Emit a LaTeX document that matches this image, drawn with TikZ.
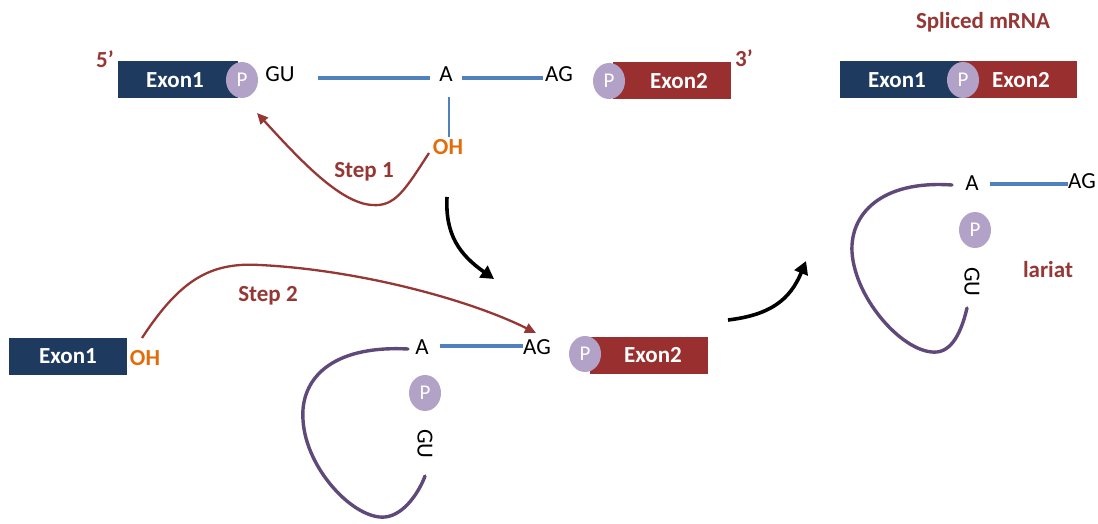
\documentclass[tikz,border=0pt]{standalone}
\usepackage{fontspec}
\setmainfont{Carlito}
\usetikzlibrary{arrows.meta,shapes.geometric}
\definecolor{navy}{HTML}{1F3A5F}
\definecolor{exred}{HTML}{9A2F2F}
\definecolor{lblred}{HTML}{953735}
\definecolor{ohorange}{HTML}{E36C0A}
\definecolor{lav}{HTML}{B3A2C7}
\definecolor{strand}{HTML}{4F81BD}
\definecolor{lasso}{HTML}{5F497A}
\tikzset{
  base/.style={font=\fontsize{23}{27}\selectfont, inner sep=2pt},
  bold/.style={font=\fontsize{23}{27}\selectfont\bfseries, inner sep=2pt},
  exonone/.style={bold, fill=navy, text=white, minimum width=120pt, minimum height=37pt, inner sep=0pt},
  exontwo/.style={bold, fill=exred, text=white, minimum width=118pt, minimum height=37pt, inner sep=0pt},
  pcirc/.style={ellipse, fill=lav, text=white, minimum width=32pt, minimum height=36pt, inner sep=0pt, font=\fontsize{21}{24}\selectfont},
  nt/.style={base, text=black},
  lbl/.style={bold, text=lblred},
  oh/.style={bold, text=ohorange},
  strandline/.style={draw=strand, line width=3.2pt},
  stepcurve/.style={draw=lblred, line width=2.3pt, -{Triangle[length=11pt,width=10pt]}},
  flowarrow/.style={draw=black, line width=3.6pt, -{Triangle[length=13pt,width=14pt]}},
  lassoline/.style={draw=lasso, line width=3.4pt, line cap=round},
}
\begin{document}
\begin{tikzpicture}[x=1pt,y=-1pt]
\useasboundingbox (0,0) rectangle (1098,524);
% ---------- top row: pre-mRNA ----------
\node[lbl] (five) at (105,59) {5’};
\node[exonone] (ea) at (178,80) {\hspace*{-6pt}Exon1};
\node[pcirc] (pa) at (242,80) {P};
\node[nt] (gua) at (280,74) {GU};
\coordinate (sa) at (318,78);
\node[nt, inner sep=0pt] (aa) at (446,74) {A};
\coordinate (sb) at (430,78);
\coordinate (sc) at (462,78);
\node[nt] (aga) at (559,74) {AG};
\draw[strandline] (sa) -- (sb);
\draw[strandline] (sc) -- (aga.west |- sc);
\node[exontwo] (eb) at (672,81) {\hspace*{14pt}Exon2};
\node[pcirc] (pb) at (609,81) {P};
\node[lbl] (three) at (744,58) {3’};
\node[oh] (oha) at (448,147) {OH};
\coordinate (va) at (449,97);
\draw[strand, line width=1.4pt] (va) -- (oha.north -| va);
% step 1
\coordinate (st1) at (429,153);
\draw[stepcurve] (st1) .. controls (405,190) and (395,207) .. (372,205)
   .. controls (340,203) and (300,160) .. (257,113);
\node[lbl] (s1) at (364,172) {Step 1};
% black arrow down
\coordinate (ba1) at (447,197);
\coordinate (ba2) at (494,279);
\draw[flowarrow] (ba1) .. controls (445,235) and (460,255) .. (ba2);
% ---------- top right: spliced mRNA ----------
\node[lbl] (smr) at (983,22) {Spliced mRNA};
\node[exonone] (ec) at (900,80) {\hspace*{-6pt}Exon1};
\node[exontwo] (ed) at (1018,80) {\hspace*{6pt}Exon2};
\node[pcirc] (pc) at (963,80) {P};
% ---------- right: lariat ----------
\node[nt, inner sep=0pt] (ac) at (972,183) {A};
\node[nt, inner sep=0pt] (agc) at (1082,181) {AG};
\coordinate (sd) at (990,184);
\draw[strandline] (sd) -- (agc.west |- sd);
\node[pcirc] (pd) at (975,230) {P};
\node[nt, rotate=-90] (guc) at (972,282) {GU};
\node[lbl] (lar) at (1048,270) {lariat};
\coordinate (la1) at (952,185);
\coordinate (la2) at (967,308);
\draw[lassoline] (la1) .. controls (880,180) and (850,215) .. (852,252)
   .. controls (855,300) and (905,355) .. (937,352)
   .. controls (955,350) and (963,325) .. (la2);
% black arrow up-right
\coordinate (bb1) at (728,320);
\coordinate (bb2) at (806,261);
\draw[flowarrow] (bb1) .. controls (770,315) and (790,300) .. (bb2);
% ---------- bottom: after step 1 ----------
\node[exonone, minimum width=118pt] (ee) at (68,356) {Exon1};
\node[oh] (ohb) at (145,358) {OH};
\node[nt, inner sep=0pt] (ab) at (422,347) {A};
\node[nt, inner sep=0pt] (agb) at (537,347) {AG};
\coordinate (se) at (440,346);
\draw[strandline] (se) -- (agb.west |- se);
\node[exontwo] (ef) at (649,355) {\hspace*{8pt}Exon2};
\node[pcirc] (pf) at (585,354) {P};
\node[pcirc] (pe) at (425,393) {P};
\node[nt, rotate=-90] (gub) at (425,444) {GU};
\coordinate (lb1) at (408,349);
\coordinate (lb2) at (425,476);
\draw[lassoline] (lb1) .. controls (330,345) and (300,380) .. (303,420)
   .. controls (306,470) and (355,520) .. (385,517)
   .. controls (405,515) and (420,490) .. (lb2);
% step 2
\coordinate (st2) at (142,338);
\draw[stepcurve] (st2) .. controls (180,280) and (210,262) .. (260,265)
   .. controls (360,270) and (470,300) .. (536,333);
\node[lbl] (s2) at (268,296) {Step 2};
\end{tikzpicture}
\end{document}
